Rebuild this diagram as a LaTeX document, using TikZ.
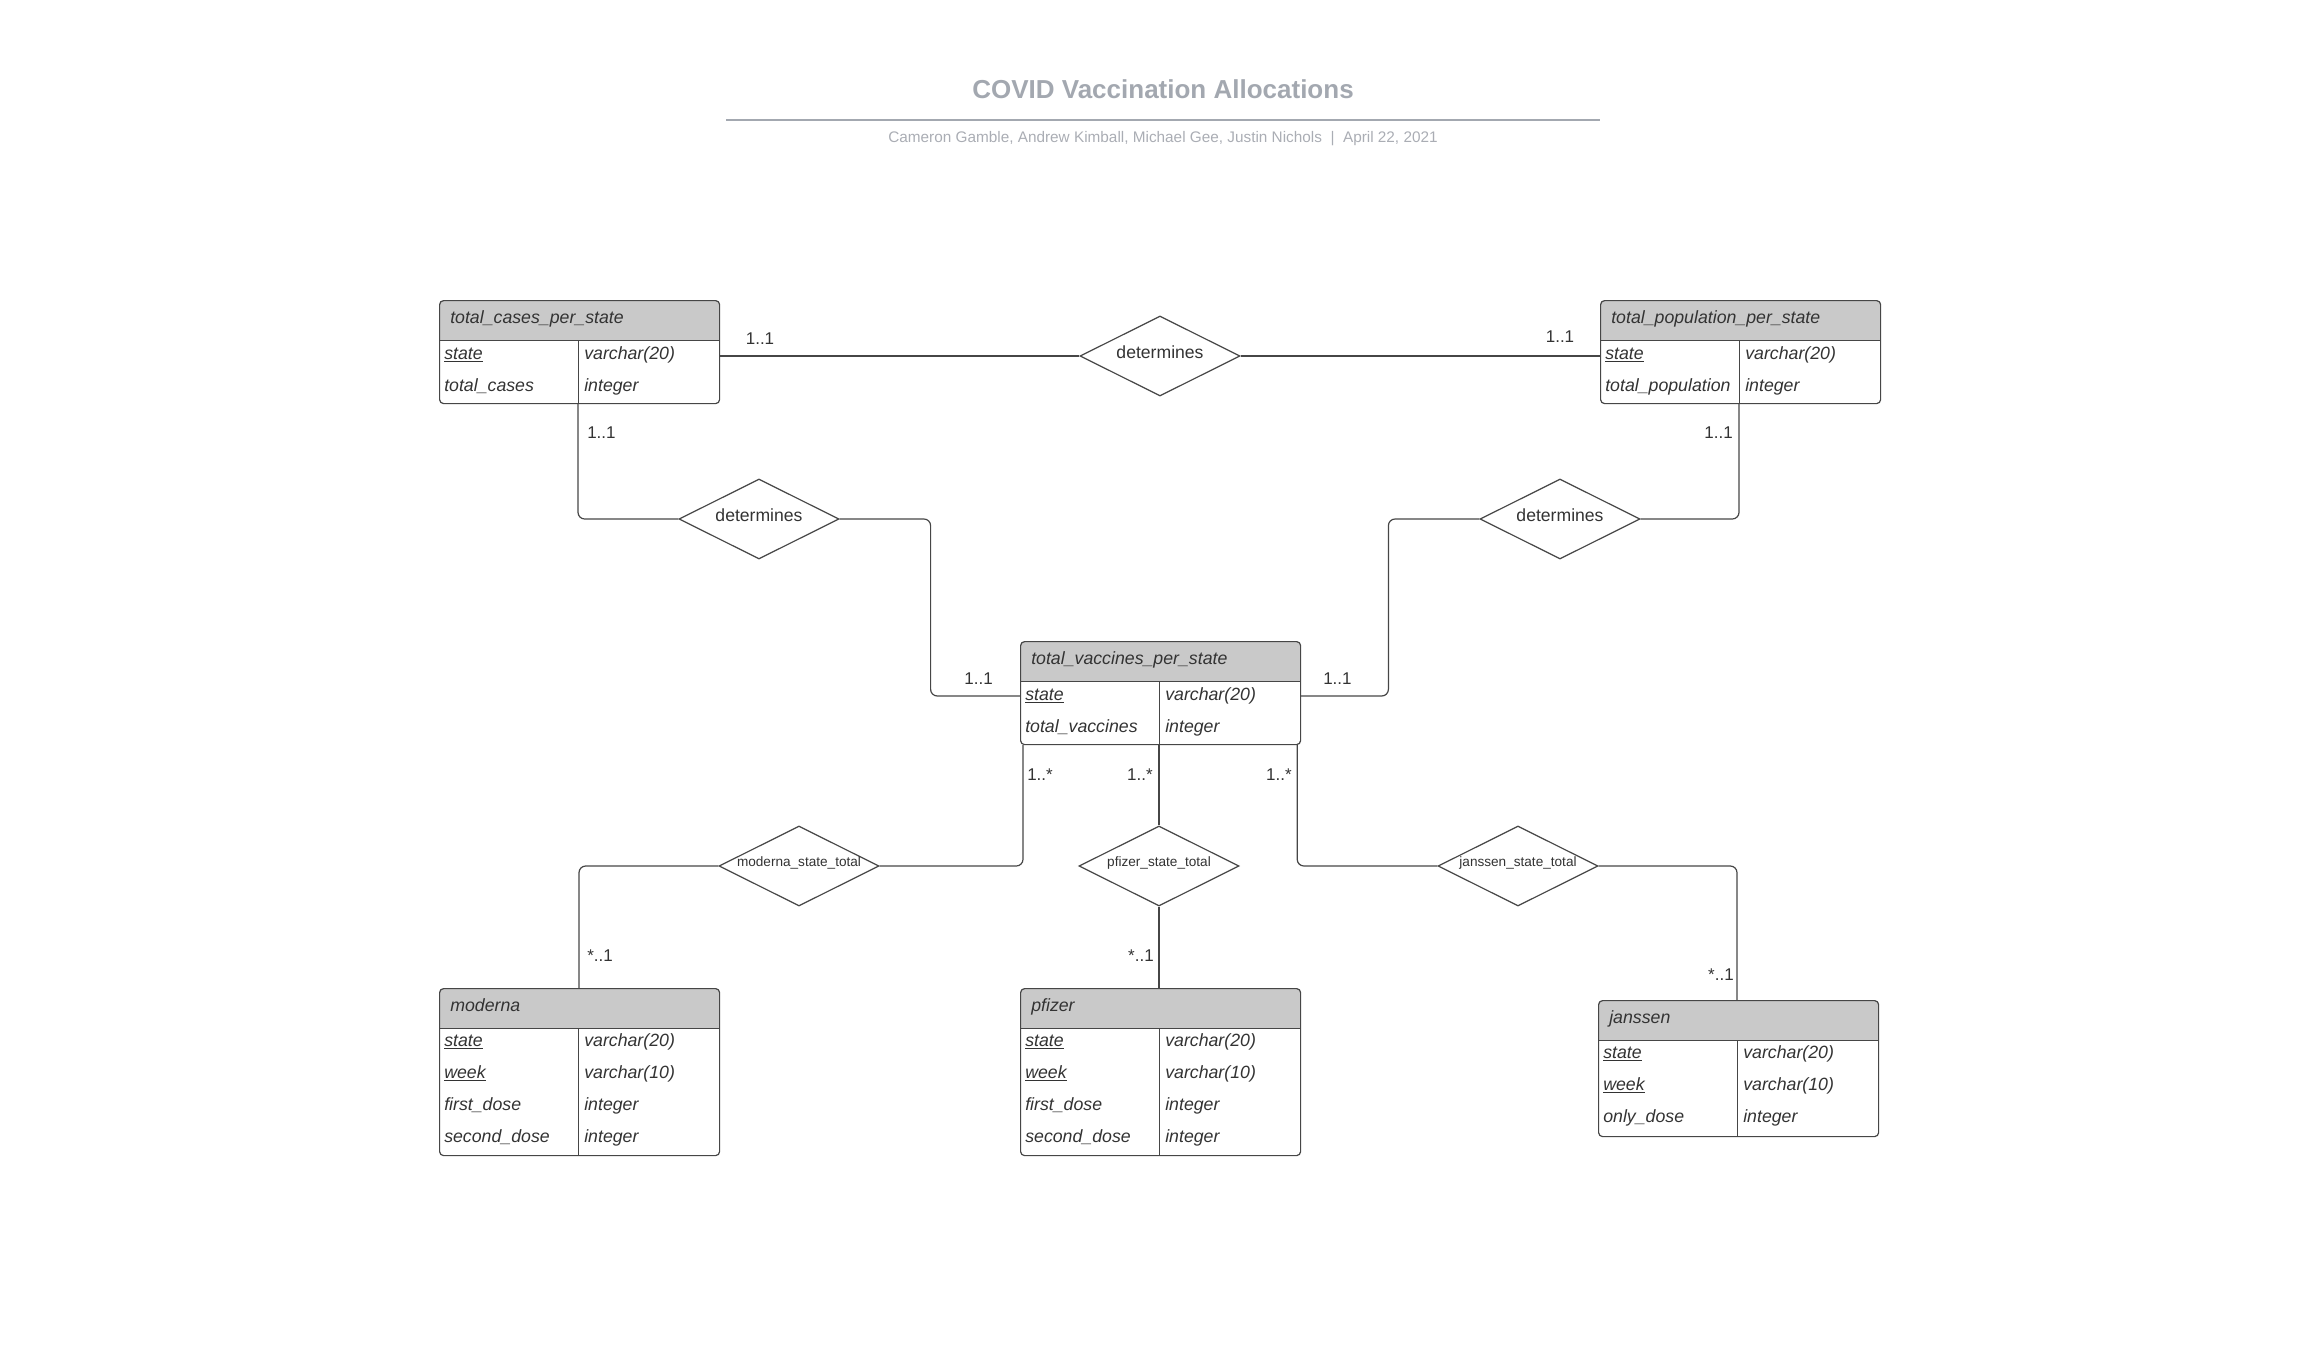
\documentclass[tikz,border=0pt]{standalone}
\usepackage{fontspec}
\setmainfont{Liberation Sans}
\usetikzlibrary{shapes.geometric,calc}
\definecolor{hdrgray}{RGB}{201,201,201}
\definecolor{titlegray}{RGB}{163,168,176}
\definecolor{subgray}{RGB}{170,173,180}
\definecolor{inkgray}{RGB}{51,51,51}
\definecolor{edgegray}{RGB}{70,70,70}
\tikzset{
  entity/.style={draw=edgegray, line width=0.9pt, rounded corners=3pt, fill=white,
    minimum width=210pt, inner sep=0pt, anchor=north west,
    path picture={
      \coordinate (hl) at ($(path picture bounding box.north west)!30pt!(path picture bounding box.south west)$);
      \coordinate (hr) at ($(path picture bounding box.north east)!30pt!(path picture bounding box.south east)$);
      \coordinate (dt) at ($(hl)!104.25pt!(hr)$);
      \coordinate (db) at ($(path picture bounding box.south west)!104.25pt!(path picture bounding box.south east)$);
      \fill[hdrgray, sharp corners] (path picture bounding box.north west) rectangle (hr);
      \draw[edgegray, line width=0.9pt, sharp corners] (hl) -- (hr);
      \draw[edgegray, line width=0.9pt, sharp corners] (dt) -- (db);
    }},
  head/.style={anchor=west, inner sep=0pt, text=inkgray, font=\itshape\fontsize{13.3}{16}\selectfont,
    text height=9.6pt, text depth=3pt},
  attr/.style={head},
  rel/.style={draw=edgegray, line width=0.9pt, shape=diamond, aspect=2, minimum width=120pt,
    minimum height=60pt, inner sep=0pt, fill=white, text=inkgray, font=\fontsize{13.2}{16}\selectfont,
    text height=9pt, text depth=5pt},
  relsmall/.style={rel, font=\fontsize{10.2}{12}\selectfont, text height=6pt, text depth=6pt},
  card/.style={inner sep=0pt, text=inkgray, font=\fontsize{12.75}{15}\selectfont},
  link/.style={draw=edgegray, line width=0.9pt, rounded corners=5pt}
}
\begin{document}
\begin{tikzpicture}[x=0.75pt,y=0.75pt,yscale=-1,xscale=1]
\useasboundingbox (0,0) rectangle (2320,1360);

% Title
\node[font=\bfseries\fontsize{19.5}{23}\selectfont, text=titlegray] (title) at (1163,89) {COVID Vaccination Allocations};
\draw[titlegray, line width=1.5pt] (726,120) -- (1600,120);
\node[font=\fontsize{11.5}{14}\selectfont, text=subgray] (byline) at (1163,139) {Cameron Gamble, Andrew Kimball, Michael Gee, Justin Nichols\ \ |\ \ April 22, 2021};

%Shape: Entity total_cases_per_state
\node[entity, minimum height=77.25pt] (cases) at (439,300) {};
\node[head] (cases-h) at (450,319) {total\_cases\_per\_state};
\node[attr] (cases-k1) at (444,355) {\underline{state}};
\node[attr] (cases-t1) at (584,355) {varchar(20)};
\node[attr] (cases-k2) at (444,387) {total\_cases};
\node[attr] (cases-t2) at (584,387) {integer};

%Shape: Entity total_population_per_state
\node[entity, minimum height=77.25pt] (pop) at (1600,300) {};
\node[head] (pop-h) at (1611,319) {total\_population\_per\_state};
\node[attr] (pop-k1) at (1605,355) {\underline{state}};
\node[attr] (pop-t1) at (1745,355) {varchar(20)};
\node[attr] (pop-k2) at (1605,387) {total\_population};
\node[attr] (pop-t2) at (1745,387) {integer};

%Shape: Entity total_vaccines_per_state
\node[entity, minimum height=77.25pt] (vacc) at (1020,641) {};
\node[head] (vacc-h) at (1031,660) {total\_vaccines\_per\_state};
\node[attr] (vacc-k1) at (1025,696) {\underline{state}};
\node[attr] (vacc-t1) at (1165,696) {varchar(20)};
\node[attr] (vacc-k2) at (1025,728) {total\_vaccines};
\node[attr] (vacc-t2) at (1165,728) {integer};

%Shape: Entity moderna
\node[entity, minimum height=125.25pt] (moderna) at (439,988) {};
\node[head] (moderna-h) at (450,1007) {moderna};
\node[attr] (moderna-k1) at (444,1042) {\underline{state}};
\node[attr] (moderna-t1) at (584,1042) {varchar(20)};
\node[attr] (moderna-k2) at (444,1074) {\underline{week}};
\node[attr] (moderna-t2) at (584,1074) {varchar(10)};
\node[attr] (moderna-k3) at (444,1106) {first\_dose};
\node[attr] (moderna-t3) at (584,1106) {integer};
\node[attr] (moderna-k4) at (444,1138) {second\_dose};
\node[attr] (moderna-t4) at (584,1138) {integer};

%Shape: Entity pfizer
\node[entity, minimum height=125.25pt] (pfizer) at (1020,988) {};
\node[head] (pfizer-h) at (1031,1007) {pfizer};
\node[attr] (pfizer-k1) at (1025,1042) {\underline{state}};
\node[attr] (pfizer-t1) at (1165,1042) {varchar(20)};
\node[attr] (pfizer-k2) at (1025,1074) {\underline{week}};
\node[attr] (pfizer-t2) at (1165,1074) {varchar(10)};
\node[attr] (pfizer-k3) at (1025,1106) {first\_dose};
\node[attr] (pfizer-t3) at (1165,1106) {integer};
\node[attr] (pfizer-k4) at (1025,1138) {second\_dose};
\node[attr] (pfizer-t4) at (1165,1138) {integer};

%Shape: Entity janssen
\node[entity, minimum height=102pt] (janssen) at (1598,1000) {};
\node[head] (janssen-h) at (1609,1019) {janssen};
\node[attr] (janssen-k1) at (1603,1054) {\underline{state}};
\node[attr] (janssen-t1) at (1743,1054) {varchar(20)};
\node[attr] (janssen-k2) at (1603,1086) {\underline{week}};
\node[attr] (janssen-t2) at (1743,1086) {varchar(10)};
\node[attr] (janssen-k3) at (1603,1118) {only\_dose};
\node[attr] (janssen-t3) at (1743,1118) {integer};

%Shape: Relations
\node[rel] (det-top) at (1160,356) {determines};
\node[rel] (det-left) at (759,519) {determines};
\node[rel] (det-right) at (1560,519) {determines};
\node[relsmall] (mod-rel) at (799,866) {moderna\_state\_total};
\node[relsmall] (pfz-rel) at (1159,866) {pfizer\_state\_total};
\node[relsmall] (jan-rel) at (1518,866) {janssen\_state\_total};

%Straight Lines
\draw[link] (det-top.west) -- (det-top.west -| cases.east);
\draw[link] (det-top.east) -- (det-top.east -| pop.west);
\draw[link] ($(cases.south west)+(139,0)$) |- (det-left.west);
\draw[link] (det-left.east) -- ++(91,0) |- (vacc.west |- vacc-k1);
\draw[link] ($(pop.south west)+(139,0)$) |- (det-right.east);
\draw[link] (det-right.west) -- ++(-91,0) |- (vacc.east |- vacc-k1);
\draw[link] ($(vacc.south west)+(3,0)$) |- (mod-rel.east);
\draw[link] (mod-rel.west) -| ($(moderna.north west)+(140,0)$);
\draw[link] ($(vacc.south west)+(139,0)$) -- (pfz-rel.north);
\draw[link] (pfz-rel.south) -- (pfz-rel.south |- pfizer.north);
\draw[link] ($(vacc.south east)+(-4,0)$) |- (jan-rel.west);
\draw[link] (jan-rel.east) -| ($(janssen.north west)+(139,0)$);

% Text Node
\node[card] (c1) at (760,339) {1..1};
\node[card] (c2) at (1560,337) {1..1};
\node[card, anchor=west] (c3) at (587,433) {1..1};
\node[card, anchor=east] (c4) at (1733,433) {1..1};
\node[card, anchor=east] (c5) at (993,679) {1..1};
\node[card, anchor=west] (c6) at (1323,679) {1..1};
\node[card, anchor=west] (c7) at (1027,775) {1..*};
\node[card, anchor=east] (c8) at (1153,775) {1..*};
\node[card, anchor=east] (c9) at (1292,775) {1..*};
\node[card, anchor=west] (c10) at (587,956) {*..1};
\node[card, anchor=east] (c11) at (1154,956) {*..1};
\node[card, anchor=east] (c12) at (1734,975) {*..1};

\end{tikzpicture}
\end{document}
